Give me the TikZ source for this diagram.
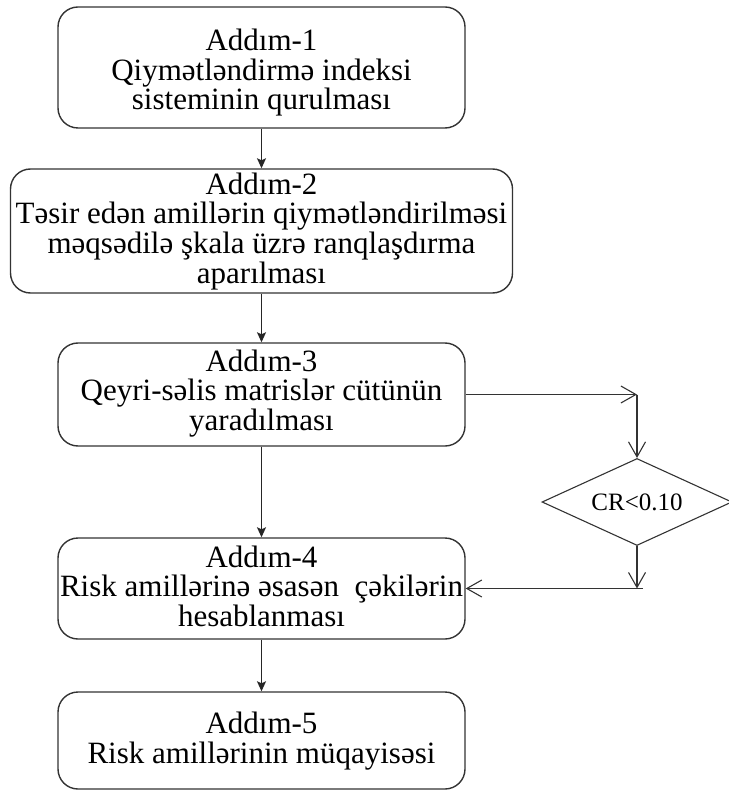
\documentclass[tikz,border=0pt]{standalone}
\usepackage{fontspec}
\setmainfont{Liberation Serif}
\usetikzlibrary{shapes.geometric,arrows.meta}

\begin{document}
\begin{tikzpicture}[x=1pt,y=-1pt,
  addbox/.style={draw=black!80,line width=1.4pt,rounded corners=20pt,align=center,
    inner sep=0pt,minimum width=407pt,text depth=0pt,font=\fontsize{31}{29.5}\selectfont},
  crbox/.style={draw=black!80,line width=1.1pt,diamond,aspect=2.2,minimum width=190pt,
    minimum height=87pt,inner sep=0pt,font=\fontsize{25}{26}\selectfont},
  mainarrow/.style={-{Stealth[length=10pt,width=9pt,inset=2pt]},line width=1.3pt,black!85},
  sidearrow/.style={-{Straight Barb[length=15pt,width=17pt]},line width=1.1pt,black!80}]
\useasboundingbox (0,0) rectangle (728,791);
%\draw[gray!30,very thin,step=50] (0,0) grid (728,791);
\node[addbox,minimum height=121pt,text height=85pt] (step1) at (261.5,67.5)
  {Addım-1\\Qiymətləndirmə indeksi\\sisteminin qurulması};
\node[addbox,minimum height=124pt,minimum width=502pt,text height=104pt] (step2) at (261.5,231)
  {Addım-2\\Təsir edən amillərin qiymətləndirilməsi\\məqsədilə şkala üzrə ranqlaşdırma\\aparılması};
\node[addbox,minimum height=103pt,text height=71pt] (step3) at (261.5,394.5)
  {Addım-3\\Qeyri-səlis matrislər cütünün\\yaradılması};
\node[addbox,minimum height=101pt,text height=75pt] (step4) at (261.5,588.5)
  {Addım-4\\Risk amillərinə əsasən\ \ çəkilərin\\hesablanması};
\node[addbox,minimum height=97pt,text height=45pt] (step5) at (261.5,740.5)
  {Addım-5\\Risk amillərinin müqayisəsi};
\node[crbox] (cr) at (637,502) {CR<0.10};
\coordinate (c1) at (637,394.5);
\coordinate (c2) at (637,588.5);
\coordinate (c3) at (643,588.5);
\draw[mainarrow] (step1) -- (step2);
\draw[mainarrow] (step2) -- (step3);
\draw[mainarrow] (step3) -- (step4);
\draw[mainarrow] (step4) -- (step5);
\draw[sidearrow] (step3.east) -- (c1);
\draw[sidearrow] (c1) -- (cr.north);
\draw[sidearrow] (cr.south) -- (c2);
\draw[sidearrow] (c3) -- (step4.east |- c3);
\end{tikzpicture}
\end{document}
